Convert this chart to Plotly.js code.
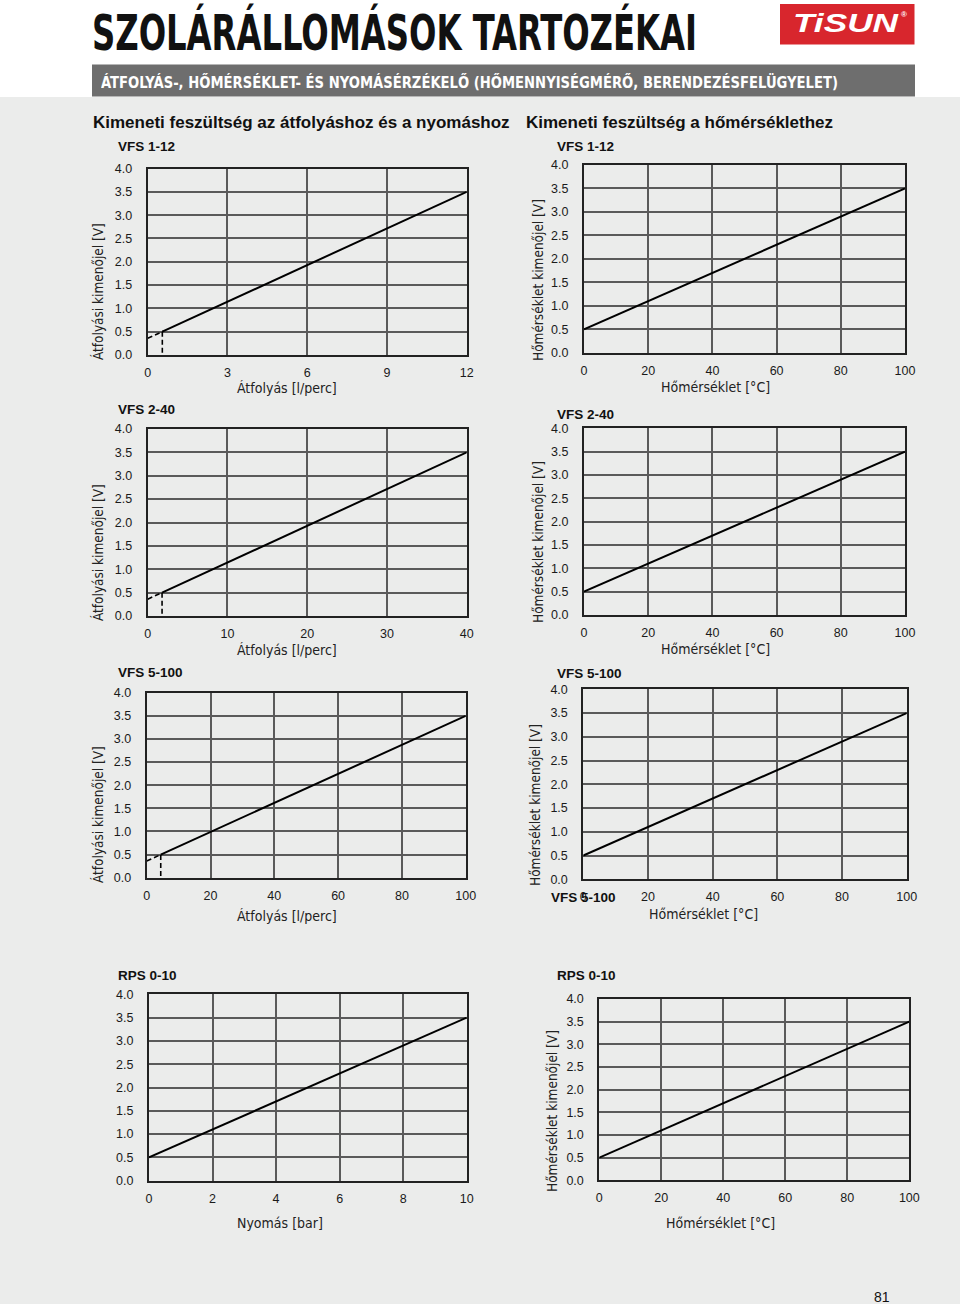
<!DOCTYPE html>
<html><head><meta charset="utf-8">
<script src="https://cdn.plot.ly/plotly-3.0.1.min.js"></script>
<style>
html,body{margin:0;padding:0;background:#ebeceb;}
#wrap{position:relative;width:960px;height:1304px;overflow:hidden;}
#chart{position:absolute;left:0;top:0;width:960px;height:1304px;}
.fit{position:absolute;white-space:nowrap;transform-origin:0 0;line-height:1;}
#chart .gridlayer path, #chart .xlines-above, #chart .ylines-above{shape-rendering:crispEdges;}
</style></head><body>
<div id="wrap">
<div id="chart"></div>
<div class="fit" data-w="605" style="left:92px;top:4px;font:700 50px 'Liberation Sans Narrow','DejaVu Sans Condensed','Liberation Sans',sans-serif;color:#111;">SZOLÁRÁLLOMÁSOK TARTOZÉKAI</div>
<div class="fit" data-w="737" style="left:101px;top:73px;font:700 16px 'Liberation Sans Narrow','DejaVu Sans Condensed','Liberation Sans',sans-serif;color:#fff;">ÁTFOLYÁS-, HŐMÉRSÉKLET- ÉS NYOMÁSÉRZÉKELŐ (HŐMENNYISÉGMÉRŐ, BERENDEZÉSFELÜGYELET)</div>
<div class="fit" data-w="105" style="left:793px;top:9px;font:italic 700 25px 'Liberation Sans','DejaVu Sans',sans-serif;color:#fff;">TiSUN</div>
<div class="fit" style="left:901px;top:10px;font:700 8px 'Liberation Sans',sans-serif;color:#fff;">®</div>
</div>
<script>
// ---- data ----
const yTicks = [0, 0.5, 1, 1.5, 2, 2.5, 3, 3.5, 4];
const yTickText = ['0.0','0.5','1.0','1.5','2.0','2.5','3.0','3.5','4.0'];

const vfs112Ticks = [0, 3, 6, 9, 12];
const vfs112X = [0.55, 12];
const vfs112Y = [0.5, 3.5];
const vfs112DashX = [0, 0.55, 0.55];
const vfs112DashY = [0.36, 0.5, 0];

const vfs240Ticks = [0, 10, 20, 30, 40];
const vfs240X = [1.8, 40];
const vfs240Y = [0.5, 3.5];
const vfs240DashX = [0, 1.8, 1.8];
const vfs240DashY = [0.36, 0.5, 0];

const vfs5100Ticks = [0, 20, 40, 60, 80, 100];
const vfs5100X = [4.4, 100];
const vfs5100Y = [0.5, 3.5];
const vfs5100DashX = [0, 4.4, 4.4];
const vfs5100DashY = [0.36, 0.5, 0];

const rpsTicks = [0, 2, 4, 6, 8, 10];
const rpsX = [0, 10];
const rpsY = [0.5, 3.5];

const tempTicks = [0, 20, 40, 60, 80, 100];
const tempX = [0, 100];
const tempY = [0.5, 3.5];

// ---- layout ----
const W = 960, H = 1304;
const px = v => v / W, py = v => 1 - v / H;
const TICKF = {family: "'Liberation Sans', Arial, sans-serif", size: 12.5, color: '#1a1a1a'};
const NARROW = "'Liberation Sans Narrow', 'DejaVu Sans Condensed', 'Liberation Sans', sans-serif";
const BOLD = "'Liberation Sans', Arial, sans-serif";

const panels = [
  {x0:147.7, x1:466.7, yb:355,   yt:168.5, xr:12,  xt:vfs112Ticks, lx:vfs112X, ly:vfs112Y, dx:vfs112DashX, dy:vfs112DashY},
  {x0:584,   x1:905,   yb:352.7, yt:165,   xr:100, xt:tempTicks,   lx:tempX,   ly:tempY},
  {x0:147.7, x1:466.7, yb:616,   yt:429,   xr:40,  xt:vfs240Ticks, lx:vfs240X, ly:vfs240Y, dx:vfs240DashX, dy:vfs240DashY},
  {x0:584,   x1:905,   yb:615,   yt:428.3, xr:100, xt:tempTicks,   lx:tempX,   ly:tempY},
  {x0:146.7, x1:465.7, yb:877.7, yt:692.7, xr:100, xt:vfs5100Ticks,lx:vfs5100X,ly:vfs5100Y, dx:vfs5100DashX, dy:vfs5100DashY},
  {x0:583.3, x1:906.7, yb:879.3, yt:689.3, xr:100, xt:tempTicks,   lx:tempX,   ly:tempY},
  {x0:149,   x1:466.7, yb:1180.7,yt:994.3, xr:10,  xt:rpsTicks,    lx:rpsX,    ly:rpsY},
  {x0:599.3, x1:909.3, yb:1180.3,yt:999,   xr:100, xt:tempTicks,   lx:tempX,   ly:tempY}
];

const data = [];
const layout = {
  width: W, height: H, margin: {l:0, r:0, t:0, b:0},
  paper_bgcolor: '#ebeceb', plot_bgcolor: 'rgba(0,0,0,0)',
  showlegend: false, font: TICKF,
  shapes: [], annotations: []
};

panels.forEach((p, i) => {
  const n = i + 1, xa = 'xaxis' + (n === 1 ? '' : n), ya = 'yaxis' + (n === 1 ? '' : n);
  const xr = 'x' + (n === 1 ? '' : n), yr = 'y' + (n === 1 ? '' : n);
  layout[xa] = {
    domain: [px(p.x0), px(p.x1)], range: [0, p.xr], anchor: yr,
    tickmode: 'array', tickvals: p.xt, ticktext: p.xt.map(String),
    showgrid: true, gridcolor: '#5a5a5a', gridwidth: 2,
    showline: true, mirror: true, linecolor: '#222', linewidth: 2,
    zeroline: false, ticks: '', ticklabelstandoff: 5, tickfont: TICKF, fixedrange: true
  };
  layout[ya] = {
    domain: [py(p.yb), py(p.yt)], range: [0, 4], anchor: xr,
    tickmode: 'array', tickvals: yTicks, ticktext: yTickText,
    showgrid: true, gridcolor: '#5a5a5a', gridwidth: 2,
    showline: true, mirror: true, linecolor: '#222', linewidth: 2,
    zeroline: false, ticks: '', ticklabelstandoff: 11, tickfont: TICKF, fixedrange: true
  };
  data.push({type:'scatter', mode:'lines', x:p.lx, y:p.ly, xaxis:xr, yaxis:yr,
             line:{color:'#000', width:2}, hoverinfo:'skip'});
  if (p.dx) data.push({type:'scatter', mode:'lines', x:p.dx, y:p.dy, xaxis:xr, yaxis:yr,
             line:{color:'#000', width:1.6, dash:'5px,3px'}, hoverinfo:'skip'});
});

// backgrounds of header
layout.shapes.push(
  {type:'rect', xref:'paper', yref:'paper', x0:0, x1:1, y0:py(97), y1:1, fillcolor:'#ffffff', line:{width:0}, layer:'below'},
  {type:'rect', xref:'paper', yref:'paper', x0:px(92), x1:px(915), y0:py(96.5), y1:py(64.5), fillcolor:'#6e6e6e', line:{width:0}, layer:'below'},
  {type:'rect', xref:'paper', yref:'paper', x0:px(780), x1:px(914.5), y0:py(44.5), y1:py(4), fillcolor:'#d8262d', line:{width:0}, layer:'below'}
);

function ann(text, x, y, font, extra) {
  return Object.assign({text, xref:'paper', yref:'paper', x:px(x), y:py(y),
    xanchor:'left', yanchor:'middle', showarrow:false, font}, extra || {});
}
const hFont = {family: BOLD, size: 17, color: '#111', weight: 700};
const sFont = {family: BOLD, size: 13.5, color: '#111', weight: 700};
const tFont = {family: NARROW, size: 14, color: '#222'};
const yFont = {family: NARROW, size: 13.5, color: '#222'};

layout.annotations.push(
  ann('<b>Kimeneti feszültség az átfolyáshoz és a nyomáshoz</b>', 91, 123, hFont),
  ann('<b>Kimeneti feszültség a hőmérséklethez</b>', 524, 123, hFont),
  ann('<b>VFS 1-12</b>', 116, 147, sFont),
  ann('<b>VFS 1-12</b>', 555, 147, sFont),
  ann('<b>VFS 2-40</b>', 116, 409, sFont),
  ann('<b>VFS 2-40</b>', 555, 414, sFont),
  ann('<b>VFS 5-100</b>', 116, 672, sFont),
  ann('<b>VFS 5-100</b>', 555, 673, sFont),
  ann('<b>VFS 5-100</b>', 549, 897, sFont),
  ann('<b>RPS 0-10</b>', 116, 975, sFont),
  ann('<b>RPS 0-10</b>', 555, 975, sFont),
  ann('Átfolyás [l/perc]', 287, 388, tFont, {xanchor:'center'}),
  ann('Hőmérséklet [°C]', 715, 387, tFont, {xanchor:'center'}),
  ann('Átfolyás [l/perc]', 287, 650, tFont, {xanchor:'center'}),
  ann('Hőmérséklet [°C]', 715, 649, tFont, {xanchor:'center'}),
  ann('Átfolyás [l/perc]', 287, 916, tFont, {xanchor:'center'}),
  ann('Hőmérséklet [°C]', 703, 914, tFont, {xanchor:'center'}),
  ann('Nyomás [bar]', 280, 1223, tFont, {xanchor:'center'}),
  ann('Hőmérséklet [°C]', 720, 1223, tFont, {xanchor:'center'}),
  ann('Átfolyási kimenőjel [V]', 98, 292, yFont, {xanchor:'center', textangle:-90}),
  ann('Hőmérséklet kimenőjel [V]', 538, 280, yFont, {xanchor:'center', textangle:-90}),
  ann('Átfolyási kimenőjel [V]', 98, 553, yFont, {xanchor:'center', textangle:-90}),
  ann('Hőmérséklet kimenőjel [V]', 538, 542, yFont, {xanchor:'center', textangle:-90}),
  ann('Átfolyási kimenőjel [V]', 98, 815, yFont, {xanchor:'center', textangle:-90}),
  ann('Hőmérséklet kimenőjel [V]', 535, 805, yFont, {xanchor:'center', textangle:-90}),
  ann('Hőmérséklet kimenőjel [V]', 552, 1111, yFont, {xanchor:'center', textangle:-90}),
  ann('81', 882, 1297, {family: BOLD, size: 14, color: '#111'}, {xanchor:'center'})
);

Plotly.newPlot('chart', data, layout, {staticPlot: true, displayModeBar: false}).then(() => {
  const fit = () => document.querySelectorAll('.fit[data-w]').forEach(el => {
    el.style.transform = 'none';
    const w = el.getBoundingClientRect().width;
    el.style.transform = 'scaleX(' + (parseFloat(el.dataset.w) / w) + ')';
  });
  fit();
  if (document.fonts && document.fonts.ready) document.fonts.ready.then(fit);
});
</script>
</body></html>
